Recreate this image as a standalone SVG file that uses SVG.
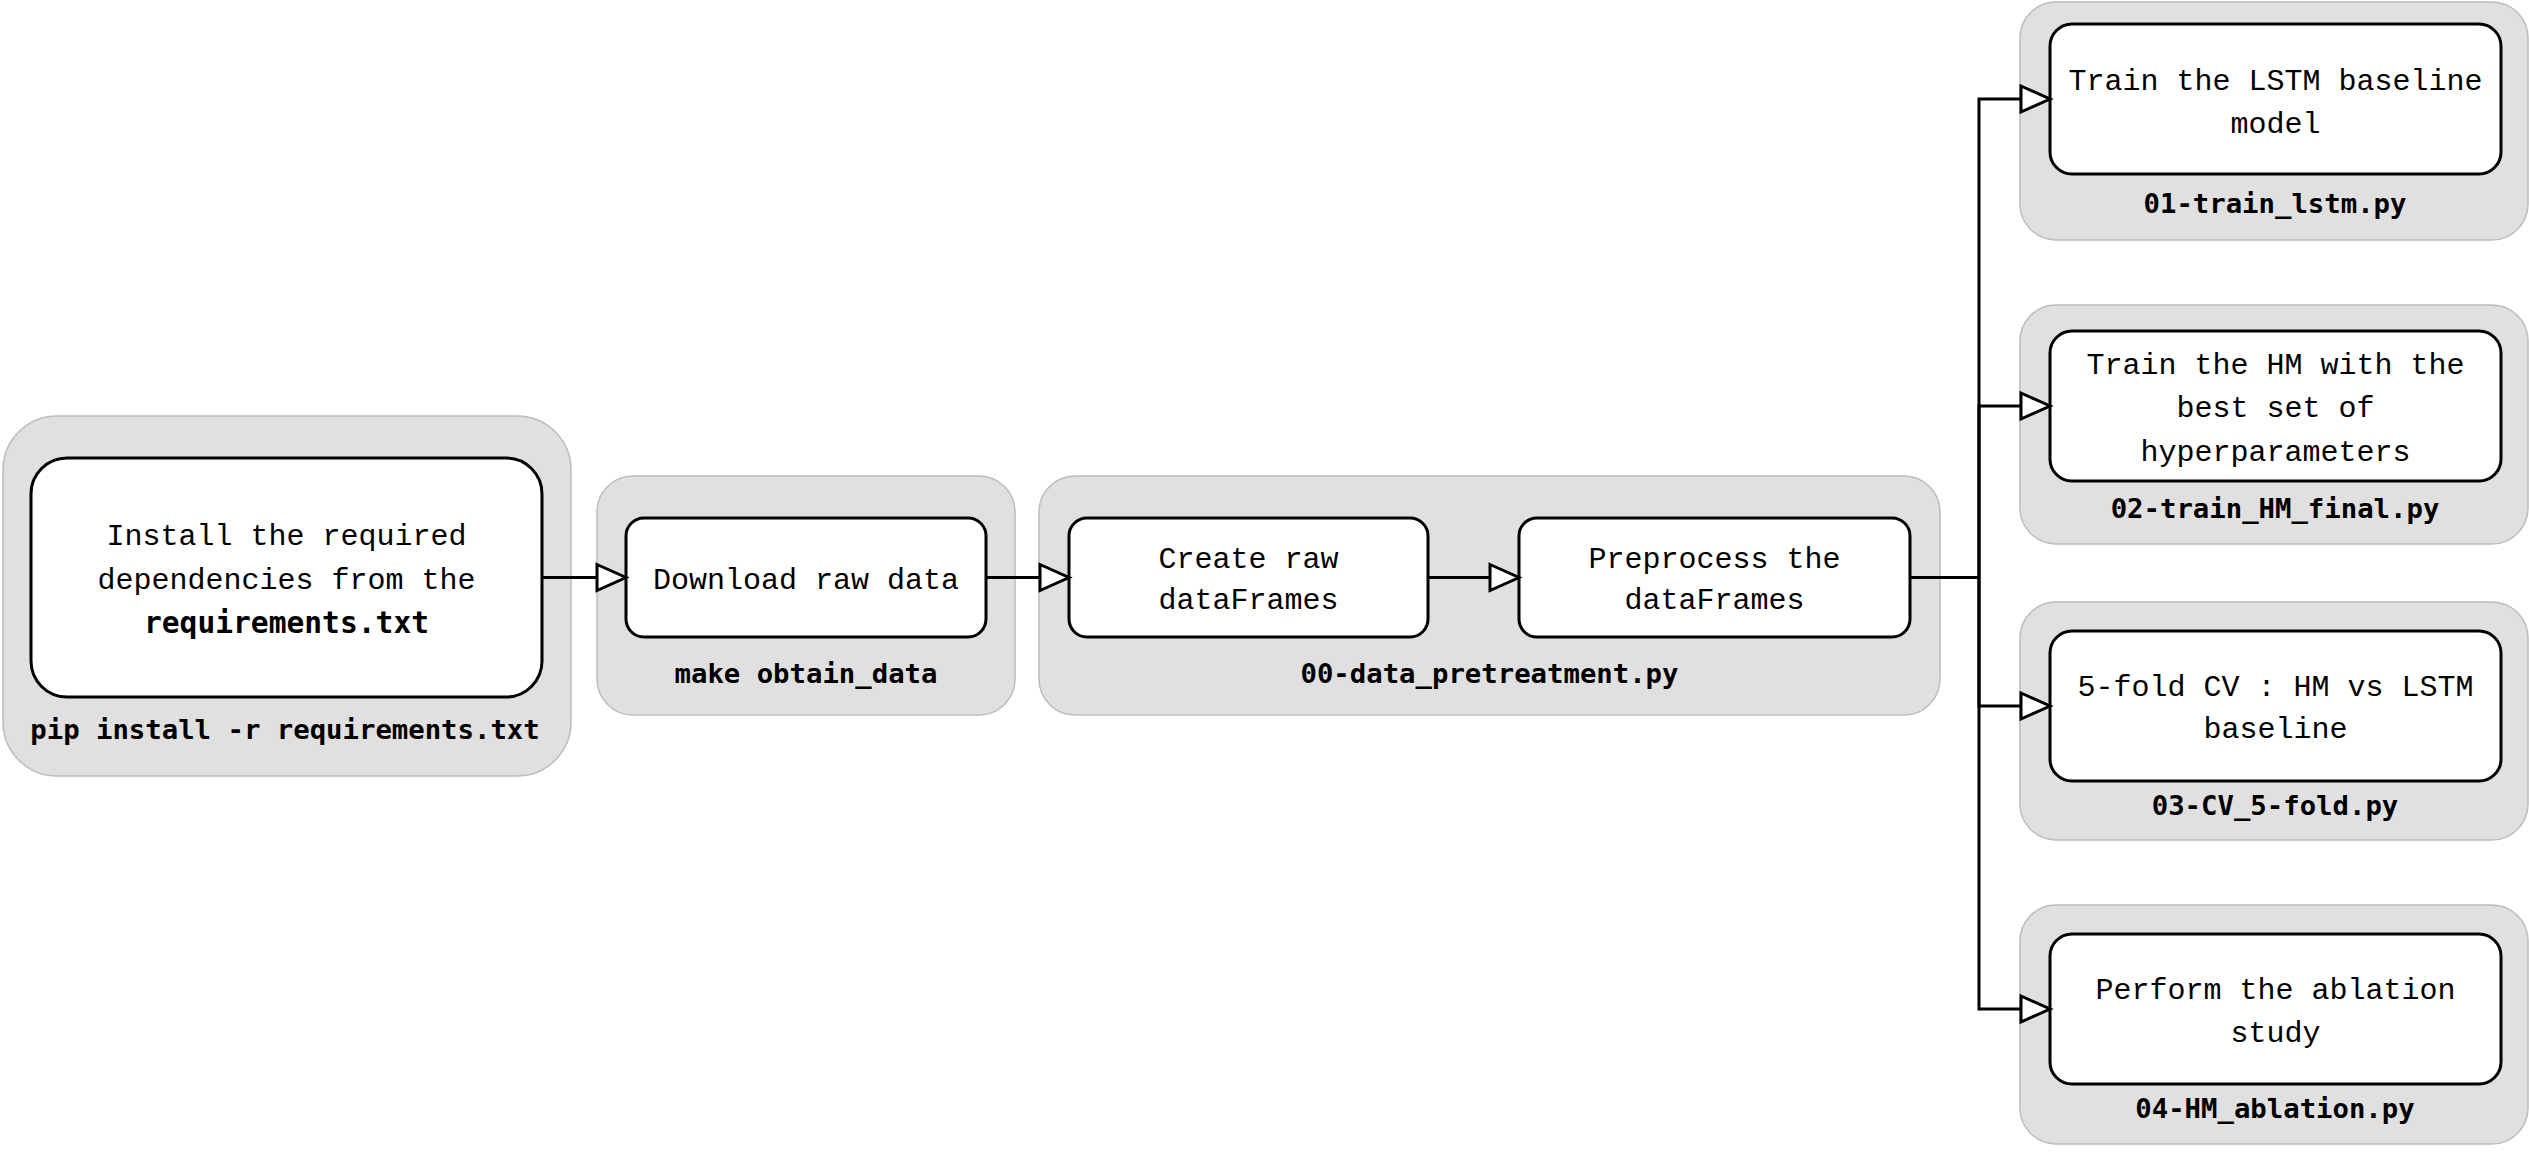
<svg xmlns="http://www.w3.org/2000/svg" width="2529" height="1161" viewBox="0 0 2529 1161">
<defs>
<style>
.grp{fill:#e0e0e0;stroke:#bcbcbc;stroke-width:1.5}
.box{fill:#ffffff;stroke:#000000;stroke-width:3}
.t{font-family:"Liberation Mono","DejaVu Sans Mono",monospace;font-size:30px;fill:#000;text-anchor:middle}
.tb{font-family:"DejaVu Sans Mono","Liberation Mono",monospace;font-size:29.6px;font-weight:bold;fill:#000;text-anchor:middle}
.lbl{font-family:"DejaVu Sans Mono","Liberation Mono",monospace;font-size:27.3px;font-weight:bold;fill:#000;text-anchor:middle}
.con{fill:none;stroke:#000;stroke-width:3;marker-end:url(#arr)}
.con2{fill:none;stroke:#000;stroke-width:3}
</style>
<marker id="arr" markerUnits="userSpaceOnUse" viewBox="-2 -2 33 30" markerWidth="33" markerHeight="30" refX="29" refY="13" orient="auto" overflow="visible">
<path d="M0,0 L29,13 L0,26 Z" fill="#ffffff" stroke="#000" stroke-width="3" stroke-linejoin="miter"/>
</marker>
</defs>

<g id="g-pip">
<rect class="grp" x="3" y="416" width="568" height="360" rx="54" ry="54"/>
<rect class="box" x="31" y="458" width="511" height="239" rx="36" ry="36"/>
<text class="t" x="286.5" y="545">Install the required</text>
<text class="t" x="286.5" y="589">dependencies from the</text>
<text class="tb" x="286.5" y="633">requirements.txt</text>
<text class="lbl" x="285" y="739">pip install -r requirements.txt</text>
</g>

<g id="g-make">
<rect class="grp" x="597" y="476" width="418" height="239" rx="36" ry="36"/>
<rect class="box" x="626" y="518" width="360" height="119" rx="18" ry="18"/>
<text class="t" x="806" y="589">Download raw data</text>
<text class="lbl" x="806" y="683">make obtain_data</text>
</g>

<g id="g-pretreat">
<rect class="grp" x="1039" y="476" width="901" height="239" rx="36" ry="36"/>
<text class="lbl" x="1489.5" y="683">00-data_pretreatment.py</text>
</g>

<g id="n-create">
<rect class="box" x="1069" y="518" width="359" height="119" rx="18" ry="18"/>
<text class="t" x="1248.5" y="568">Create raw</text>
<text class="t" x="1248.5" y="609">dataFrames</text>
</g>

<g id="n-preprocess">
<rect class="box" x="1519" y="518" width="391" height="119" rx="18" ry="18"/>
<text class="t" x="1714.5" y="568">Preprocess the</text>
<text class="t" x="1714.5" y="609">dataFrames</text>
</g>

<g id="g-01">
<rect class="grp" x="2020" y="2" width="508" height="238" rx="36" ry="36"/>
<rect class="box" x="2050" y="24" width="451" height="150" rx="22" ry="22"/>
<text class="t" x="2275.5" y="90">Train the LSTM baseline</text>
<text class="t" x="2275.5" y="133">model</text>
<text class="lbl" x="2275" y="213">01-train_lstm.py</text>
</g>

<g id="g-02">
<rect class="grp" x="2020" y="305" width="508" height="239" rx="36" ry="36"/>
<rect class="box" x="2050" y="331" width="451" height="150" rx="22" ry="22"/>
<text class="t" x="2275.5" y="374">Train the HM with the</text>
<text class="t" x="2275.5" y="417">best set of</text>
<text class="t" x="2275.5" y="461">hyperparameters</text>
<text class="lbl" x="2275" y="518">02-train_HM_final.py</text>
</g>

<g id="g-03">
<rect class="grp" x="2020" y="602" width="508" height="238" rx="36" ry="36"/>
<rect class="box" x="2050" y="631" width="451" height="150" rx="22" ry="22"/>
<text class="t" x="2275.5" y="696">5-fold CV : HM vs LSTM</text>
<text class="t" x="2275.5" y="738">baseline</text>
<text class="lbl" x="2275" y="815">03-CV_5-fold.py</text>
</g>

<g id="g-04">
<rect class="grp" x="2020" y="905" width="508" height="239" rx="36" ry="36"/>
<rect class="box" x="2050" y="934" width="451" height="150" rx="22" ry="22"/>
<text class="t" x="2275.5" y="999">Perform the ablation</text>
<text class="t" x="2275.5" y="1042">study</text>
<text class="lbl" x="2275" y="1118">04-HM_ablation.py</text>
</g>

<g id="connectors">
<path class="con" d="M542,577.5 H626"/>
<path class="con" d="M986,577.5 H1069"/>
<path class="con" d="M1428,577.5 H1519"/>
<path class="con2" d="M1910,577.5 H1979"/>
<path class="con" d="M1979,577.5 V99 H2050"/>
<path class="con" d="M1979,577.5 V406 H2050"/>
<path class="con" d="M1979,577.5 V706 H2050"/>
<path class="con" d="M1979,577.5 V1009 H2050"/>
</g>
</svg>
